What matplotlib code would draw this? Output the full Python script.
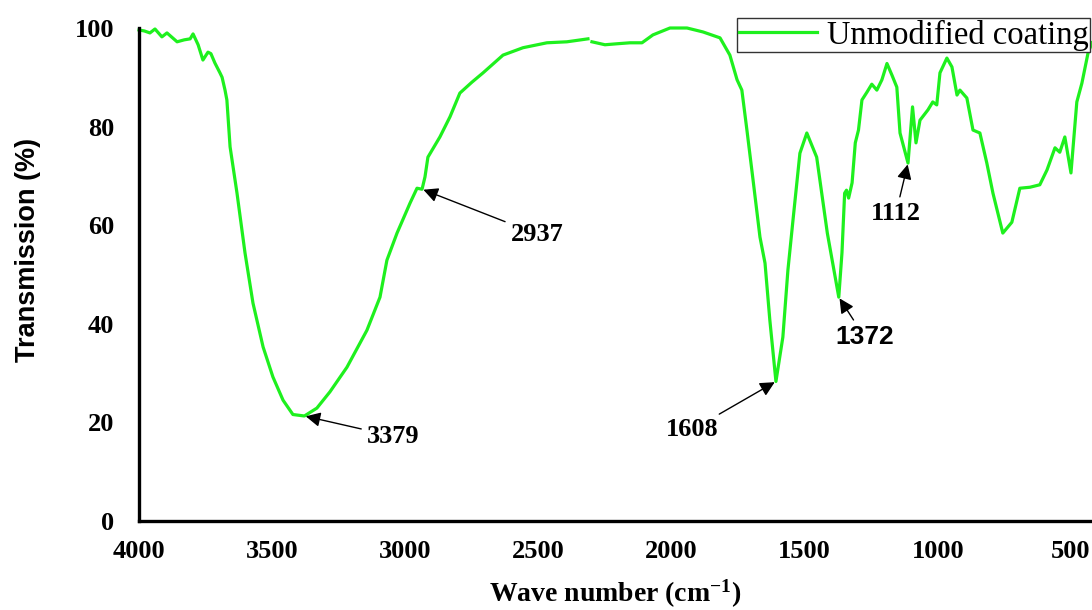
import numpy as np
import matplotlib
matplotlib.use('Agg')
import matplotlib.pyplot as plt

plt.rcParams['mathtext.fontset'] = 'custom'
plt.rcParams['mathtext.rm'] = 'Liberation Serif:bold'
plt.rcParams['mathtext.default'] = 'rm'

# FTIR spectrum of the unmodified coating (wave number in cm-1, transmission in %)
wavenumber = [
    4000, 3980, 3959, 3940, 3914, 3895, 3857, 3830, 3808, 3797, 3778, 3760,
    3741, 3730, 3715, 3696, 3688, 3677, 3670, 3658, 3632, 3602, 3572, 3534,
    3497, 3459, 3422, 3379, 3332, 3283, 3219, 3144, 3095, 3069, 3031, 2982,
    2956, 2937, 2926, 2915, 2870, 2832, 2795, 2750, 2708, 2633, 2558, 2468,
    2393, 2314, np.nan, 2299, 2250, 2205, 2156, 2111, 2070, 2006, 1942, 1882,
    1818, 1781, 1754, 1736, 1717, 1694, 1668, 1649, 1631, 1608, 1582, 1563,
    1544, 1518, 1492, 1455, 1415, 1372, 1360, 1350, 1343, 1335, 1322, 1310,
    1298, 1285, 1266, 1248, 1229, 1210, 1191, 1172, 1154, 1142, 1112, 1095,
    1082, 1067, 1037, 1019, 1004, 992, 966, 947, 928, 917, 891, 868, 842,
    816, 793, 756, 722, 692, 654, 617, 590, 560, 542, 523, 500, 478, 459,
    436, 421,
]
transmission = [
    99.6, 99.4, 99.0, 99.8, 98.2, 99.0, 97.2, 97.6, 97.8, 98.8, 96.6, 93.5,
    95.1, 94.8, 92.9, 90.9, 90.0, 87.4, 85.4, 75.9, 66.5, 54.4, 44.2, 35.3,
    29.2, 24.5, 21.6, 21.3, 22.9, 26.2, 31.2, 38.7, 45.4, 52.9, 58.4, 64.5,
    67.5, 67.3, 69.8, 73.8, 77.9, 82.0, 86.8, 89.0, 90.9, 94.5, 96.0, 97.0,
    97.2, 97.8, np.nan, 97.2, 96.6, 96.8, 97.0, 97.0, 98.6, 100.0, 100.0, 99.2,
    98.0, 94.5, 89.5, 87.4, 79.3, 69.2, 57.6, 52.3, 40.8, 28.3, 37.3, 50.9,
    61.0, 74.6, 78.7, 73.8, 58.4, 45.4, 54.4, 66.5, 67.1, 65.5, 68.6, 76.7,
    79.3, 85.4, 87.0, 88.6, 87.4, 89.5, 92.8, 90.4, 88.0, 78.7, 72.6, 84.0,
    76.7, 81.3, 83.4, 85.0, 84.4, 90.9, 93.9, 92.1, 86.4, 87.4, 85.8, 79.3, 78.7,
    72.6, 66.5, 58.4, 60.6, 67.5, 67.7, 68.2, 71.2, 75.7, 74.8, 77.9, 70.6, 85.0, 88.8,
    94.9, 97.0,
]

# labelled bands: (wave number, transmission at band, label position)
peak_labels = ['3379', '2937', '1608', '1372', '1112']
peak_x = [3379, 2937, 1608, 1372, 1112]
peak_y = [21.3, 67.3, 28.3, 45.4, 72.6]
label_x = [3046, 2506, 1923, 1275, 1158]
label_y = [17.2, 58.2, 18.5, 37.3, 62.3]

xticks = [4000, 3500, 3000, 2500, 2000, 1500, 1000, 500]
yticks = [0, 20, 40, 60, 80, 100]

serif = 'Liberation Serif'
sans = 'Liberation Sans'

fig = plt.figure(figsize=(10.92, 6.10), dpi=100)
ax = fig.add_axes([0.1273, 0.1459, 0.8727, 0.8082])

line, = ax.plot(wavenumber, transmission, color='#1ef01e', lw=2.3,
                clip_on=False, label='Unmodified coating')

ax.set_xlim(4000, 421)
ax.set_ylim(0, 100)
ax.set_xticks(xticks)
ax.set_yticks(yticks)
ax.tick_params(length=0, labelsize=19, pad=14)
ax.tick_params(axis='y', pad=18)
for lab in ax.get_xticklabels() + ax.get_yticklabels():
    lab.set_fontfamily(serif)
    lab.set_fontweight('bold')

for side in ['top', 'right']:
    ax.spines[side].set_visible(False)
for side in ['left', 'bottom']:
    ax.spines[side].set_linewidth(2.4)

ax.set_xlabel('Wave number (cm$^{-1}$)', fontsize=20,
              fontfamily=serif, fontweight='bold', va='center')
ax.xaxis.set_label_coords(0.5, -0.148)
ax.set_ylabel('Transmission (%)', fontsize=19.5, fontfamily=sans,
              fontweight='bold', va='center')
ax.yaxis.set_label_coords(-0.116, 0.55)

for txt, px, py, tx, ty in zip(peak_labels, peak_x, peak_y, label_x, label_y):
    fam = sans if txt == '1372' else serif
    ax.annotate(txt, xy=(px, py), xytext=(tx, ty), fontsize=19,
                fontfamily=fam, fontweight='bold', ha='center', va='center',
                arrowprops=dict(arrowstyle='-|>', color='black', lw=1,
                                mutation_scale=22, shrinkA=2, shrinkB=1))

leg = fig.legend(handles=[line], loc='upper left',
                 bbox_to_anchor=(737 / 1092, 1 - 18 / 610),
                 prop={'family': serif, 'size': 23.5},
                 frameon=True, fancybox=False, framealpha=1,
                 edgecolor='#333333', borderpad=0.05, handlelength=2.4,
                 handletextpad=0.3, borderaxespad=0)
leg.get_frame().set_linewidth(1)

fig.savefig('out.png', dpi=100)
